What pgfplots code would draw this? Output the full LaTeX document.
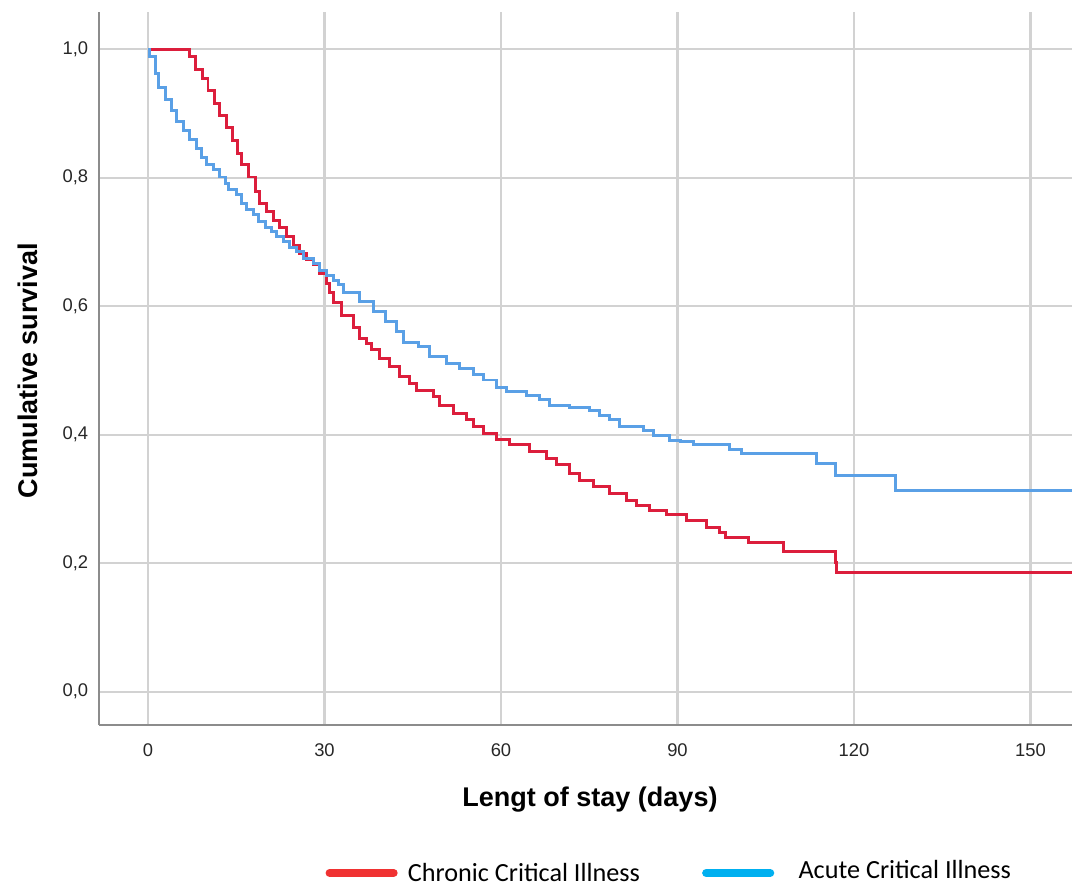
\documentclass[border=0pt]{standalone}
\usepackage{pgfplots}
\pgfplotsset{compat=1.18}
\usepackage{fontspec}
\setmainfont{Liberation Sans}
\newfontfamily\legfont{Carlito}
\definecolor{cci}{HTML}{DC1E3C}
\definecolor{aci}{HTML}{5AA0E6}
\definecolor{legred}{HTML}{F03232}
\definecolor{legblue}{HTML}{00B0F0}
\definecolor{gridgray}{HTML}{D2D2D2}
\definecolor{axgray}{HTML}{8C8C8C}

\pgfplotstableread{
day S
0 1.0
7.1 0.988
8.0 0.968
9.3 0.954
10.2 0.935
11.3 0.916
12.1 0.897
13.3 0.878
14.4 0.858
15.2 0.838
15.9 0.821
17.0 0.801
18.2 0.778
19.0 0.760
20.2 0.747
21.3 0.734
22.4 0.723
23.6 0.708
24.7 0.694
25.8 0.682
27.0 0.672
28.1 0.664
29.2 0.651
30.4 0.635
30.9 0.621
31.5 0.605
32.9 0.586
34.9 0.567
36.0 0.550
37.2 0.542
38.0 0.532
39.4 0.519
41.1 0.506
42.8 0.490
44.5 0.480
45.7 0.469
48.5 0.459
49.6 0.446
51.9 0.433
54.2 0.423
55.3 0.412
57.0 0.402
59.3 0.392
61.5 0.384
64.9 0.373
67.8 0.363
69.5 0.353
71.7 0.340
73.4 0.329
75.7 0.319
78.5 0.308
81.4 0.298
83.1 0.290
85.3 0.282
88.2 0.275
91.6 0.267
95.0 0.255
97.2 0.247
98.1 0.240
102.0 0.232
108.0 0.218
116.8 0.201
117.1 0.186
160 0.186
}\chronictab

\pgfplotstableread{
day S
0 1.0
0.3 0.988
1.2 0.962
1.8 0.941
2.9 0.922
4.0 0.905
4.9 0.888
6.0 0.873
7.1 0.859
8.2 0.845
9.1 0.831
10.0 0.821
11.1 0.812
12.1 0.801
13.1 0.791
13.7 0.782
15.1 0.773
15.9 0.760
16.8 0.751
17.9 0.742
18.8 0.732
19.9 0.723
21.0 0.716
21.9 0.708
23.0 0.700
24.1 0.692
25.3 0.685
26.4 0.674
28.1 0.666
29.2 0.656
30.4 0.648
31.5 0.640
32.3 0.633
33.2 0.621
36.0 0.607
38.3 0.591
40.3 0.576
42.3 0.560
43.4 0.544
45.9 0.537
47.9 0.521
50.8 0.511
53.0 0.503
55.3 0.493
57.0 0.485
59.3 0.474
61.0 0.467
64.4 0.461
66.6 0.454
68.3 0.446
71.7 0.442
75.1 0.438
76.8 0.430
78.5 0.423
80.2 0.413
84.2 0.407
85.9 0.399
88.7 0.391
90.5 0.389
92.7 0.384
98.9 0.377
100.9 0.370
113.7 0.355
116.8 0.337
127.0 0.3125
160 0.3125
}\acutetab

\begin{document}
\begin{tikzpicture}
\useasboundingbox (-36.65pt,-59.6pt) rectangle (360.2pt,268.4pt);
\begin{axis}[
  at={(0pt,0pt)}, anchor=south west,
  scale only axis, width=360.2pt, height=263.9pt,
  xmin=-8.33, xmax=157.06, ymin=-0.052, ymax=1.0576,
  axis x line*=bottom, axis y line*=left,
  axis line style={axgray, line width=0.8pt, -},
  major tick length=0pt,
  grid=major,
  major grid style={gridgray, line width=0.8pt},
  xtick={0,30,60,90,120,150},
  ytick={0,0.2,0.4,0.6,0.8,1.0},
  /pgf/number format/assume math mode=true,
  yticklabel style={/pgf/number format/fixed, /pgf/number format/fixed zerofill, /pgf/number format/precision=1, /pgf/number format/use comma, xshift=-0.5pt},
  xticklabel style={yshift=-3.5pt},
  tick label style={font=\fontsize{6.8}{8}\selectfont, text=black!85},
  xlabel={Lengt of stay (days)},
  ylabel={Cumulative survival},
  every axis x label/.style={at={(axis description cs:0.5046,-0.105)}, anchor=center, font=\bfseries\fontsize{10}{12}\selectfont},
  every axis y label/.style={at={(axis description cs:-0.073,0.497)}, rotate=90, anchor=center, font=\bfseries\fontsize{10}{12}\selectfont},
  legend columns=2,
  legend style={at={(axis description cs:0.2323,-0.2076)}, anchor=west, draw=none, fill=none, inner sep=0pt,
    font=\legfont\fontsize{9.7}{11}\selectfont,
    /tikz/every even column/.append style={column sep=21pt}},
  legend image code/.code={\draw[#1,line width=3pt,line cap=round] (1.5pt,0pt) -- (25.2pt,0pt);},
]
\addplot[const plot, cci, line width=1.1pt, forget plot] table[x=day,y=S] {\chronictab};
\addplot[const plot, aci, line width=1.1pt, forget plot] table[x=day,y=S] {\acutetab};
\addlegendimage{legred}
\addlegendentry{\hspace{1.8pt}\raisebox{-1pt}{Chronic Critical Illness}}
\addlegendimage{legblue}
\addlegendentry{\hspace{7pt}\raisebox{1.2pt}{Acute Critical Illness}}
\end{axis}
\end{tikzpicture}
\end{document}
